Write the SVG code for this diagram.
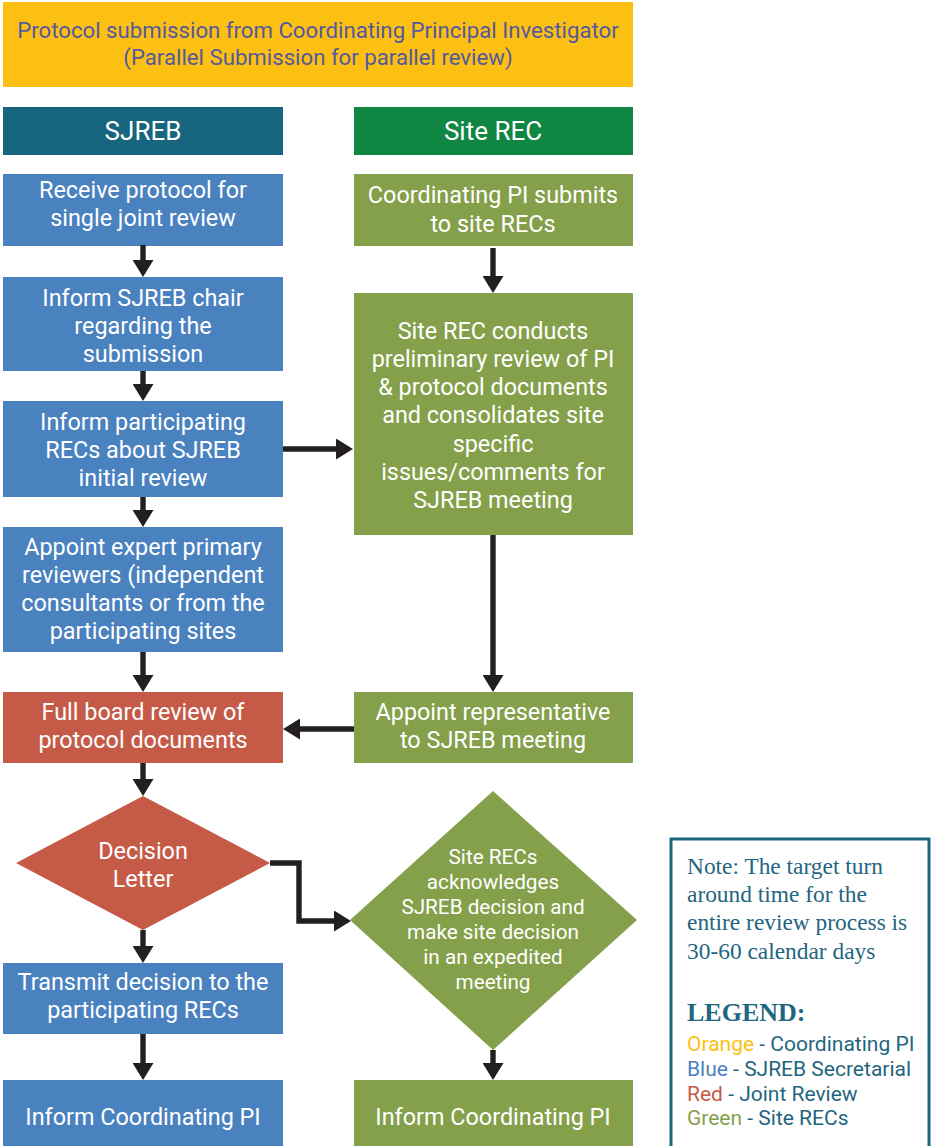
<svg xmlns="http://www.w3.org/2000/svg" width="934" height="1146" viewBox="0 0 934 1146">
<defs>
<marker id="ah" markerUnits="userSpaceOnUse" markerWidth="21" markerHeight="21" refX="2" refY="10.5" orient="auto">
<path d="M0,0 L17,10.5 L0,21 z" fill="#231F20"/>
</marker>
<style>
.t{font-family:Roboto,"Liberation Sans",sans-serif;font-size:23.4px;fill:#ffffff;text-anchor:middle}
.s{font-size:20.7px}
.blue{fill:#4A81BF}
.green{fill:#84A04A}
.red{fill:#C55B47}
.c{fill:none;stroke:#231F20;stroke-width:5.4;marker-end:url(#ah)}
.n{font-family:"Liberation Serif",serif;font-size:23.4px;fill:#1F6680}
.l{font-family:Roboto,"Liberation Sans",sans-serif;font-size:21px;fill:#1F6680}
</style>
</defs>
<rect width="934" height="1146" fill="#ffffff"/>
<g id="top">
<rect x="3" y="2" width="630" height="85" fill="#FBC012"/>
<text class="t" x="318" y="38" style="fill:#55599E;font-size:22.2px">Protocol submission from Coordinating Principal Investigator</text>
<text class="t" x="318" y="65" style="fill:#55599E;font-size:22.2px">(Parallel Submission for parallel review)</text>
</g>
<g id="hdr-sjreb">
<rect x="3" y="107" width="280" height="48" fill="#17657E"/>
<text class="t" x="143" y="140" style="font-size:26px">SJREB</text>
</g>
<g id="hdr-site">
<rect x="354" y="107" width="279" height="48" fill="#0F8641"/>
<text class="t" x="493" y="140" style="font-size:26px">Site REC</text>
</g>
<g id="b1">
<rect class="blue" x="3" y="174" width="280" height="72"/>
<text class="t" x="143" y="198">Receive protocol for</text>
<text class="t" x="143" y="226">single joint review</text>
</g>
<g id="b2">
<rect class="blue" x="3" y="277" width="280" height="94"/>
<text class="t" x="143" y="306">Inform SJREB chair</text>
<text class="t" x="143" y="334">regarding the</text>
<text class="t" x="143" y="362">submission</text>
</g>
<g id="b3">
<rect class="blue" x="3" y="401" width="280" height="96"/>
<text class="t" x="143" y="430">Inform participating</text>
<text class="t" x="143" y="458">RECs about SJREB</text>
<text class="t" x="143" y="486">initial review</text>
</g>
<g id="b4">
<rect class="blue" x="3" y="527" width="280" height="125"/>
<text class="t" x="143" y="555">Appoint expert primary</text>
<text class="t" x="143" y="583">reviewers (independent</text>
<text class="t" x="143" y="611">consultants or from the</text>
<text class="t" x="143" y="639">participating sites</text>
</g>
<g id="r1">
<rect class="red" x="3" y="692" width="280" height="71"/>
<text class="t" x="143" y="720">Full board review of</text>
<text class="t" x="143" y="748">protocol documents</text>
</g>
<g id="d1">
<polygon class="red" points="143,796 270,863 143,930 16,863"/>
<text class="t" x="143" y="859">Decision</text>
<text class="t" x="143" y="887">Letter</text>
</g>
<g id="b5">
<rect class="blue" x="3" y="963" width="280" height="71"/>
<text class="t" x="143" y="990">Transmit decision to the</text>
<text class="t" x="143" y="1018">participating RECs</text>
</g>
<g id="b6">
<rect class="blue" x="3" y="1080" width="280" height="66"/>
<text class="t" x="143" y="1125">Inform Coordinating PI</text>
</g>
<g id="g1">
<rect class="green" x="354" y="174" width="279" height="72"/>
<text class="t" x="493" y="203">Coordinating PI submits</text>
<text class="t" x="493" y="232">to site RECs</text>
</g>
<g id="g2">
<rect class="green" x="354" y="293" width="279" height="242"/>
<text class="t" x="493" y="339">Site REC conducts</text>
<text class="t" x="493" y="367">preliminary review of PI</text>
<text class="t" x="493" y="395">&amp; protocol documents</text>
<text class="t" x="493" y="423">and consolidates site</text>
<text class="t" x="493" y="452">specific</text>
<text class="t" x="493" y="480">issues/comments for</text>
<text class="t" x="493" y="508">SJREB meeting</text>
</g>
<g id="g3">
<rect class="green" x="354" y="692" width="279" height="71"/>
<text class="t" x="493" y="720">Appoint representative</text>
<text class="t" x="493" y="748">to SJREB meeting</text>
</g>
<g id="gd">
<polygon class="green" points="493,791 637,920 493,1050 350,920"/>
<text class="t s" x="493" y="864">Site RECs</text>
<text class="t s" x="493" y="889">acknowledges</text>
<text class="t s" x="493" y="914">SJREB decision and</text>
<text class="t s" x="493" y="939">make site decision</text>
<text class="t s" x="493" y="964">in an expedited</text>
<text class="t s" x="493" y="989">meeting</text>
</g>
<g id="g4">
<rect class="green" x="354" y="1080" width="279" height="66"/>
<text class="t" x="493" y="1125">Inform Coordinating PI</text>
</g>
<g id="legend">
<rect x="671" y="839" width="258" height="320" fill="none" stroke="#1F6680" stroke-width="3"/>
<text class="n" x="687" y="874">Note: The target turn</text>
<text class="n" x="687" y="902">around time for the</text>
<text class="n" x="687" y="930">entire review process is</text>
<text class="n" x="687" y="959">30-60 calendar days</text>
<text class="n" x="687" y="1021" style="font-weight:bold;font-size:26px">LEGEND:</text>
<text class="l" x="687" y="1051"><tspan fill="#FBC012">Orange</tspan> - Coordinating PI</text>
<text class="l" x="687" y="1076"><tspan fill="#4A81BF">Blue</tspan> - SJREB Secretarial</text>
<text class="l" x="687" y="1101"><tspan fill="#C55B47">Red</tspan> - Joint Review</text>
<text class="l" x="687" y="1125"><tspan fill="#84A04A">Green</tspan> - Site RECs</text>
</g>
<g id="connectors">
<path class="c" d="M143,245 V262"/>
<path class="c" d="M143,371 V386"/>
<path class="c" d="M143,497 V512"/>
<path class="c" d="M143,652 V677"/>
<path class="c" d="M143,763 V781"/>
<path class="c" d="M143,930 V948"/>
<path class="c" d="M143,1034 V1065"/>
<path class="c" d="M493,248 V278"/>
<path class="c" d="M493,535 V677"/>
<path class="c" d="M493,1050 V1065"/>
<path class="c" d="M283,449 H338"/>
<path class="c" d="M354,729 H298"/>
<path class="c" d="M270,863 H299 V921 H336"/>
</g>
</svg>
